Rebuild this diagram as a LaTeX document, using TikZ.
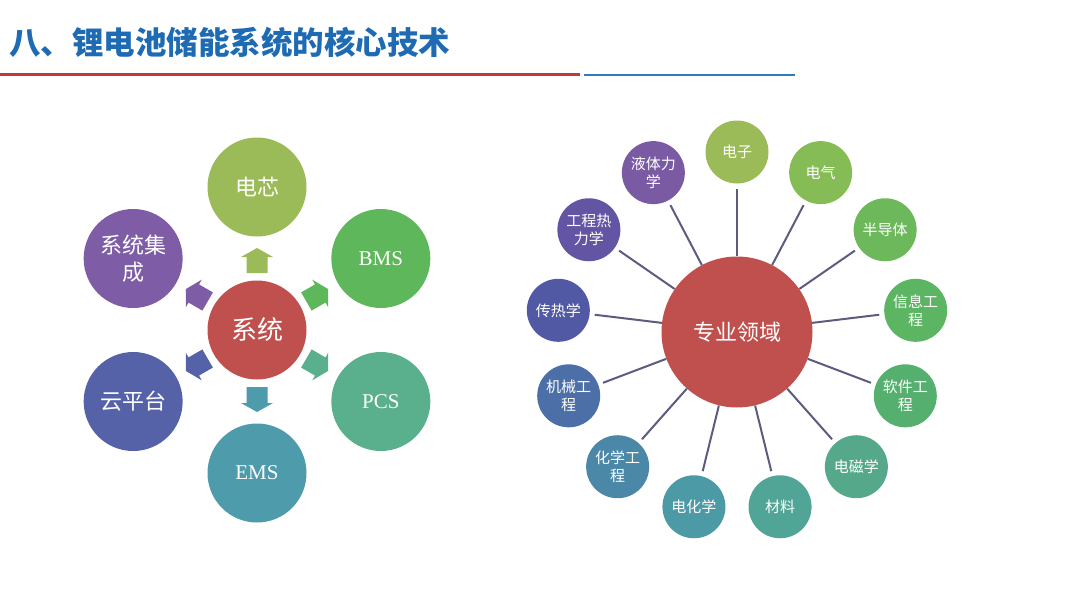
\documentclass[tikz,border=0pt]{standalone}
\usepackage{fontspec}
\setmainfont{Liberation Serif}
\newfontfamily\cjk{Noto Sans CJK SC}
\usetikzlibrary{positioning,calc}

\definecolor{titleblue}{HTML}{1E6BB3}
\definecolor{rulered}{HTML}{C5393B}
\definecolor{ruleblue}{HTML}{2F7DC0}
\definecolor{corered}{HTML}{C0504D}
\definecolor{spoke}{HTML}{5D5B7F}
\definecolor{cellgreen}{HTML}{9BBB59}
\definecolor{bmsgreen}{HTML}{5FB75B}
\definecolor{pcsteal}{HTML}{5AB08C}
\definecolor{emsteal}{HTML}{4E9BAB}
\definecolor{cloudblue}{HTML}{5662A8}
\definecolor{integpurple}{HTML}{7E5CA6}

\tikzset{
  disc/.style    = {circle, fill=#1, text=white, inner sep=0pt, align=center},
  core/.style    = {disc=corered, minimum size=99pt},
  part/.style    = {disc=#1, minimum size=99pt},
  field/.style   = {disc=#1, minimum size=63pt, font=\cjk\fontsize{15}{18}\selectfont},
  partcjk/.style = {font=\cjk\fontsize{22}{27}\selectfont},
  partlat/.style = {font=\fontsize{21}{24}\selectfont},
  blockarrow/.pic = {\fill (-13,-10.5) -- (3,-10.5) -- (3,-16) -- (12,0) -- (3,16) -- (3,10.5) -- (-13,10.5) -- cycle;}
}

\begin{document}
\begin{tikzpicture}[x=1pt, y=1pt]
  \useasboundingbox (0,0) rectangle (1080,-608);

  % title and rules
  \node [anchor=west, text=titleblue, inner sep=0pt,
         font=\cjk\bfseries\fontsize{31.5}{35}\selectfont] (title) at (9,-42) {八、锂电池储能系统的核心技术};
  \coordinate (redl) at (0,-74);
  \coordinate (redr) at (580,-74);
  \coordinate (bluel) at (584,-75);
  \coordinate (bluer) at (795,-75);
  \draw [rulered, line width=3pt] (redl) -- (redr);
  \draw [ruleblue, line width=2.5pt] (bluel) -- (bluer);

  % left: system and its parts
  \node [core, font=\cjk\fontsize{26}{30}\selectfont] (sys) at (257,-330) {系统};
  \node [part=cellgreen, partcjk]   (cell)  at ($(sys)+(90:143)$)  {电芯};
  \node [part=bmsgreen, partlat]    (bms)   at ($(sys)+(30:143)$)  {BMS};
  \node [part=pcsteal, partlat]     (pcs)   at ($(sys)+(-30:143)$) {PCS};
  \node [part=emsteal, partlat]     (ems)   at ($(sys)+(-90:143)$) {EMS};
  \node [part=cloudblue, partcjk]   (cloud) at ($(sys)+(-150:143)$) {云平台};
  \node [part=integpurple, partcjk] (integ) at ($(sys)+(150:143)$) {系统集\\成};

  \foreach \ang/\col in {90/cellgreen, 30/bmsgreen, -30/pcsteal, -90/emsteal, -150/cloudblue, 150/integpurple}
    \pic [color=\col, rotate=\ang] at ($(sys)+(\ang:70)$) {blockarrow};

  % right: fields around the hub
  \node [disc=corered, minimum size=151pt, font=\cjk\fontsize{22}{26}\selectfont] (hub) at (737,-332) {专业领域};
  \foreach \i/\txt/\col in {
      0/电子/9BBB59,
      1/电气/86BC55,
      2/半导体/6DB85A,
      3/信息工\\程/5CB562,
      4/软件工\\程/55B06F,
      5/电磁学/55A88A,
      6/材料/51A596,
      7/电化学/4C9AA6,
      8/化学工\\程/4B87A7,
      9/机械工\\程/4D6FA7,
      10/传热学/5159A5,
      11/工程热\\力学/6455A4,
      12/液体力\\学/7B5AA4} {
    \definecolor{fieldcol}{HTML}{\col}
    \node [field=fieldcol] (f\i) at ($(hub)+({90-\i*360/13}:180)$) {\txt};
    \draw [spoke, line width=2pt, shorten >=5pt] (hub) -- (f\i);
  }
\end{tikzpicture}
\end{document}
